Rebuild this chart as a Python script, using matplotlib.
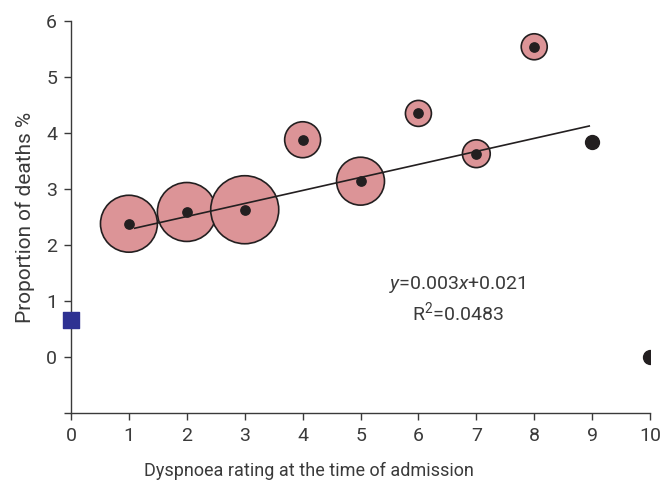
import matplotlib
matplotlib.use("Agg")
import matplotlib.pyplot as plt

plt.rcParams['font.family'] = ['Roboto', 'DejaVu Sans']
plt.rcParams['mathtext.fontset'] = 'custom'
plt.rcParams['mathtext.rm'] = 'Roboto'
plt.rcParams['mathtext.it'] = 'Roboto:italic'

# bubble groups (ratings 1-8)
bubble_x = [1, 2, 3, 4, 5, 6, 7, 8]
bubble_y = [2.38, 2.59, 2.63, 3.88, 3.14, 4.35, 3.63, 5.54]
bubble_size = [1680, 1800, 2400, 670, 1190, 350, 400, 350]

# ratings without bubble
solo_x = [9, 10]
solo_y = [3.84, 0.0]

# rating 0
zero_x = [0]
zero_y = [0.66]

# fitted trend line ends
fit_x = [1.1, 8.95]
fit_y = [2.30, 4.125]

text_col = '#3a3a3a'

fig = plt.figure(figsize=(6.62, 4.83), dpi=100)
ax = fig.add_axes([0.1073, 0.1449, 0.8746, 0.8116])

ax.scatter(bubble_x, bubble_y, s=bubble_size, color='#dc9497',
           edgecolor='#231f20', linewidth=1.2, zorder=2)
ax.plot(fit_x, fit_y, color='#231f20', lw=1.2, zorder=3)
ax.scatter(bubble_x, bubble_y, s=45, color='#231f20', zorder=4)
ax.scatter(solo_x, solo_y, s=100, color='#231f20', zorder=4)
ax.scatter(zero_x, zero_y, s=130, marker='s', color='#2e3192',
           zorder=5, clip_on=False)

ax.text(6.68, 1.29, '$y$=0.003$x$+0.021', ha='center', va='center',
        fontsize=14, color=text_col)
ax.text(6.68, 0.80, 'R$^2$=0.0483', ha='center', va='center',
        fontsize=14, color=text_col)

ax.set_xlim(0, 10)
ax.set_ylim(-1, 6)
ax.set_xticks(range(0, 11))
ax.set_yticks(range(-1, 7))
ax.set_yticklabels([''] + [str(v) for v in range(0, 7)])

for side in ['top', 'right']:
    ax.spines[side].set_visible(False)
for side in ['left', 'bottom']:
    ax.spines[side].set_color('#3a3a3a')
    ax.spines[side].set_linewidth(1.0)
ax.tick_params(length=5, width=1.0, color='#3a3a3a', labelsize=14,
               labelcolor=text_col, pad=5)

ax.set_xlabel('Dyspnoea rating at the time of admission', fontsize=13,
              color=text_col, labelpad=10)
ax.xaxis.set_label_coords(0.411, -0.125)
ax.set_ylabel('Proportion of deaths %', fontsize=15, color=text_col,
              labelpad=8)

fig.savefig('out.png', dpi=100)
